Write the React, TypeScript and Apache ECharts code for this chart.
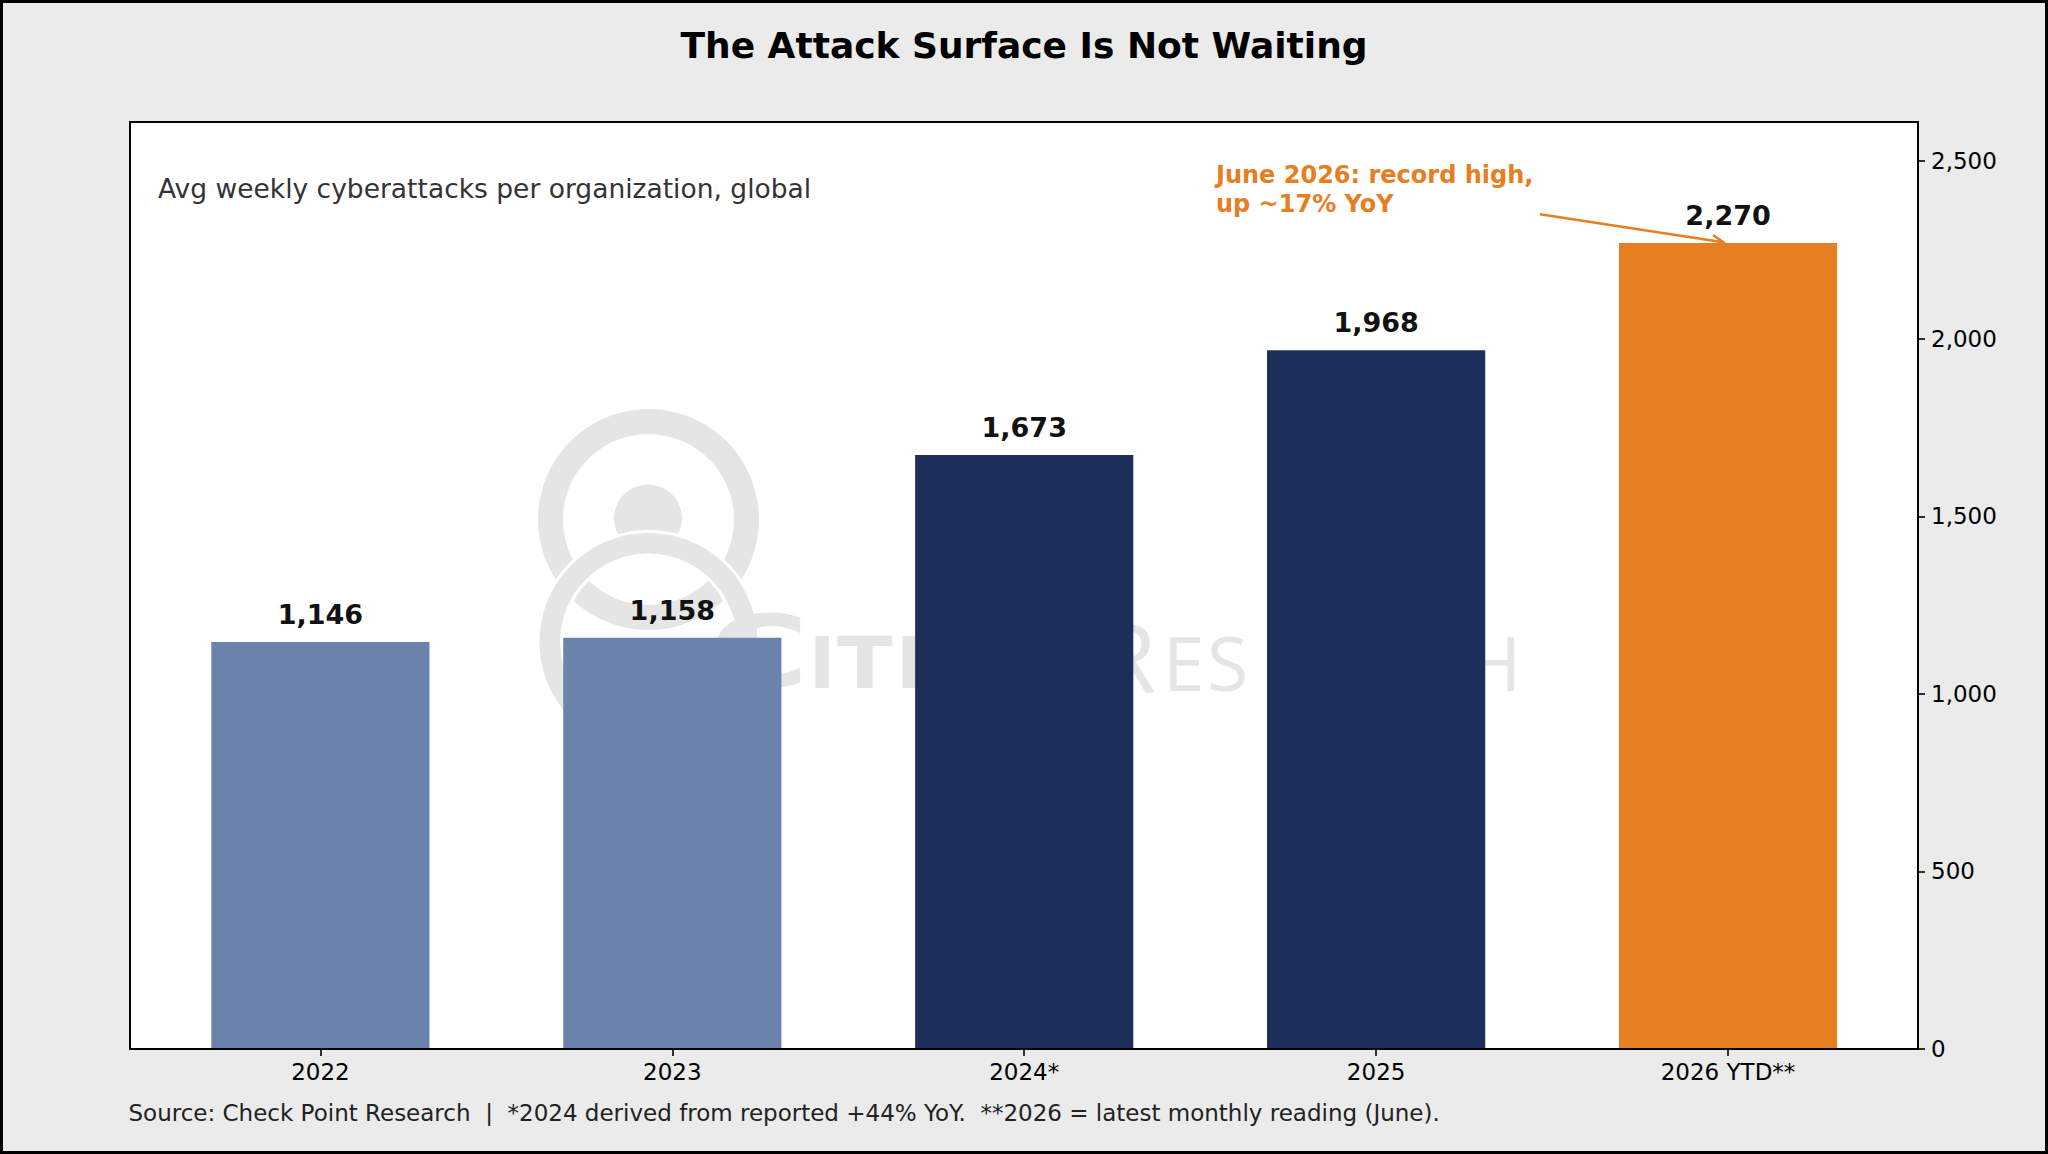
import React, { useEffect, useRef } from "react";
import * as echarts from "echarts";

const categories = ["2022", "2023", "2024*", "2025", "2026 YTD**"];
const attacks = [1146, 1158, 1673, 1968, 2270];
const barColors = ["#6b82ad", "#6b82ad", "#1c2e59", "#1c2e59", "#e67e22"];
const yTicks = [0, 500, 1000, 1500, 2000, 2500];
const yMax = 2610.5;

const titleText = "The Attack Surface Is Not Waiting";
const subtitleText = "Avg weekly cyberattacks per organization, global";
const noteLines = ["June 2026: record high,", "up ~17% YoY"];
const footText =
  "Source: Check Point Research \u00a0|\u00a0 *2024 derived from reported +44% YoY. \u00a0**2026 = latest monthly reading (June).";

const W = 2048;
const H = 1154;
const FONT = "'DejaVu Sans', sans-serif";
const ORANGE = "#e67e22";
const WM = "#e5e5e5";
const plot = { left: 130, top: 122, right: 1918, bottom: 1049 };

function txt(id: string, x: number, y: number, text: string, size: number, opts: any = {}) {
  const align = opts.align || "left";
  return {
    type: "text",
    id,
    x,
    y,
    scaleX: opts.scaleX ?? 1,
    z: opts.z ?? 10,
    silent: true,
    style: {
      text,
      fill: opts.fill || "#000",
      fontSize: size,
      fontWeight: opts.weight || "normal",
      fontFamily: opts.family || FONT,
      align,
      verticalAlign: "middle",
      textAlign: align,
      textVerticalAlign: "middle",
    },
  };
}

function baseGraphics() {
  const els: any[] = [];
  els.push({
    type: "rect",
    id: "plotbg",
    z: 0,
    silent: true,
    shape: { x: plot.left, y: plot.top, width: plot.right - plot.left, height: plot.bottom - plot.top },
    style: { fill: "#ffffff" },
  });
  // watermark logo
  els.push({ type: "ring", id: "wm-ring1", z: 1, silent: true, shape: { cx: 648.5, cy: 519.5, r: 110.5, r0: 85.5 }, style: { fill: WM } });
  els.push({ type: "circle", id: "wm-head", z: 1, silent: true, shape: { cx: 648, cy: 518.5, r: 34 }, style: { fill: WM } });
  els.push({
    type: "ring",
    id: "wm-ring2",
    z: 1,
    silent: true,
    shape: { cx: 648.5, cy: 642, r: 110.5, r0: 87 },
    style: { fill: WM, stroke: "#ffffff", lineWidth: 3 },
  });
  // watermark letters (visible parts)
  const bold = { fill: WM, weight: "bold", z: 1 };
  const reg = { fill: WM, weight: "normal", family: "'Open Sans', 'DejaVu Sans', sans-serif", z: 1 };
  els.push(txt("wm-C", 709, 652, "C", 100, { ...bold, scaleX: 1.36 }));
  els.push(txt("wm-I1", 809, 663, "I", 71, bold));
  els.push(txt("wm-T", 837, 663, "T", 71, { ...bold, scaleX: 1.15 }));
  els.push(txt("wm-I2", 896, 663, "I", 71, bold));
  els.push(txt("wm-R", 1097, 654, "R", 96, reg));
  els.push(txt("wm-E1", 1163, 662, "E", 75, reg));
  els.push(txt("wm-S", 1207, 662, "S", 75, reg));
  els.push(txt("wm-H", 1466, 662, "H", 75, reg));
  // texts
  els.push(txt("title", W / 2, 45, titleText, 36, { weight: "bold", align: "center" }));
  els.push(txt("subtitle", 158, 188, subtitleText, 26.5, { fill: "#333333" }));
  els.push(txt("note1", 1216, 175, noteLines[0], 24, { fill: ORANGE, weight: "bold" }));
  els.push(txt("note2", 1216, 203.5, noteLines[1], 24, { fill: ORANGE, weight: "bold" }));
  els.push(txt("foot", 128.5, 1113, footText, 23, { fill: "#222222" }));
  // frame & figure border
  els.push({
    type: "rect",
    id: "frame",
    z: 20,
    silent: true,
    shape: { x: plot.left, y: plot.top, width: plot.right - plot.left, height: plot.bottom - plot.top },
    style: { fill: "none", stroke: "#000", lineWidth: 2 },
  });
  els.push({
    type: "rect",
    id: "figborder",
    z: 20,
    silent: true,
    shape: { x: 1.5, y: 1.5, width: W - 3, height: H - 3 },
    style: { fill: "none", stroke: "#000", lineWidth: 3 },
  });
  return els;
}

export default function App() {
  const ref = useRef<HTMLDivElement>(null);
  useEffect(() => {
    if (!ref.current) return;
    const chart = echarts.init(ref.current, undefined, { renderer: "svg", width: W, height: H });
    const fmt = (v: number) => Number(v).toLocaleString("en-US");
    chart.setOption({
      animation: false,
      backgroundColor: "#ebebeb",
      textStyle: { fontFamily: FONT },
      grid: { left: 144.45, right: 144, top: plot.top, bottom: H - plot.bottom, containLabel: false },
      xAxis: {
        type: "category",
        data: categories,
        boundaryGap: true,
        axisLine: { show: false },
        axisTick: { show: true, alignWithLabel: true, length: 7, lineStyle: { color: "#000", width: 1.6 } },
        axisLabel: { color: "#000", fontSize: 23, fontFamily: FONT, margin: 11, lineHeight: 23 },
        splitLine: { show: false },
      },
      yAxis: {
        type: "value",
        position: "right",
        offset: 14,
        min: 0,
        max: yMax,
        interval: 500,
        axisLine: { show: false },
        axisTick: { show: true, length: 7, lineStyle: { color: "#000", width: 1.6 }, customValues: yTicks },
        axisLabel: {
          color: "#000",
          fontSize: 23,
          fontFamily: FONT,
          margin: 13,
          customValues: yTicks,
          formatter: (v: number) => (v % 500 === 0 ? fmt(v) : ""),
        },
        splitLine: { show: false },
      },
      series: [
        {
          type: "bar",
          barWidth: "62%",
          z: 2,
          data: attacks.map((v, i) => ({ value: v, itemStyle: { color: barColors[i] } })),
          label: {
            show: true,
            position: "top",
            distance: 14,
            formatter: (p: any) => fmt(p.value),
            fontSize: 27,
            lineHeight: 27,
            fontWeight: "bold",
            fontFamily: FONT,
            color: "#111111",
          },
        },
      ],
      graphic: { elements: baseGraphics() },
    });

    // annotation arrow pointing to the 2026 bar top
    const last = attacks.length - 1;
    const tip = chart.convertToPixel({ xAxisIndex: 0, yAxisIndex: 0 }, [last, attacks[last]]) as number[];
    const start = [1540, 214.3];
    const dx = tip[0] - start[0];
    const dy = tip[1] - start[1];
    const len = Math.sqrt(dx * dx + dy * dy);
    const ux = dx / len;
    const uy = dy / len;
    const end = [tip[0] - ux * 5, tip[1] - uy * 5];
    const hl = 11;
    const hw = 5.5;
    const nx = -uy;
    const ny = ux;
    const arrowEls = [
      {
        type: "line",
        id: "arrow-line",
        z: 15,
        silent: true,
        shape: { x1: start[0], y1: start[1], x2: end[0], y2: end[1] },
        style: { stroke: ORANGE, lineWidth: 2.5 },
      },
      {
        type: "polyline",
        id: "arrow-head",
        z: 15,
        silent: true,
        shape: {
          points: [
            [end[0] - ux * hl + nx * hw, end[1] - uy * hl + ny * hw],
            [end[0], end[1]],
            [end[0] - ux * hl - nx * hw, end[1] - uy * hl - ny * hw],
          ],
        },
        style: { stroke: ORANGE, lineWidth: 2.5, fill: "none" },
      },
    ];
    chart.setOption({ graphic: { elements: [...baseGraphics(), ...arrowEls] } });

    return () => chart.dispose();
  }, []);
  return <div ref={ref} style={{ position: "absolute", left: 0, top: 0, width: W, height: H }} />;
}
